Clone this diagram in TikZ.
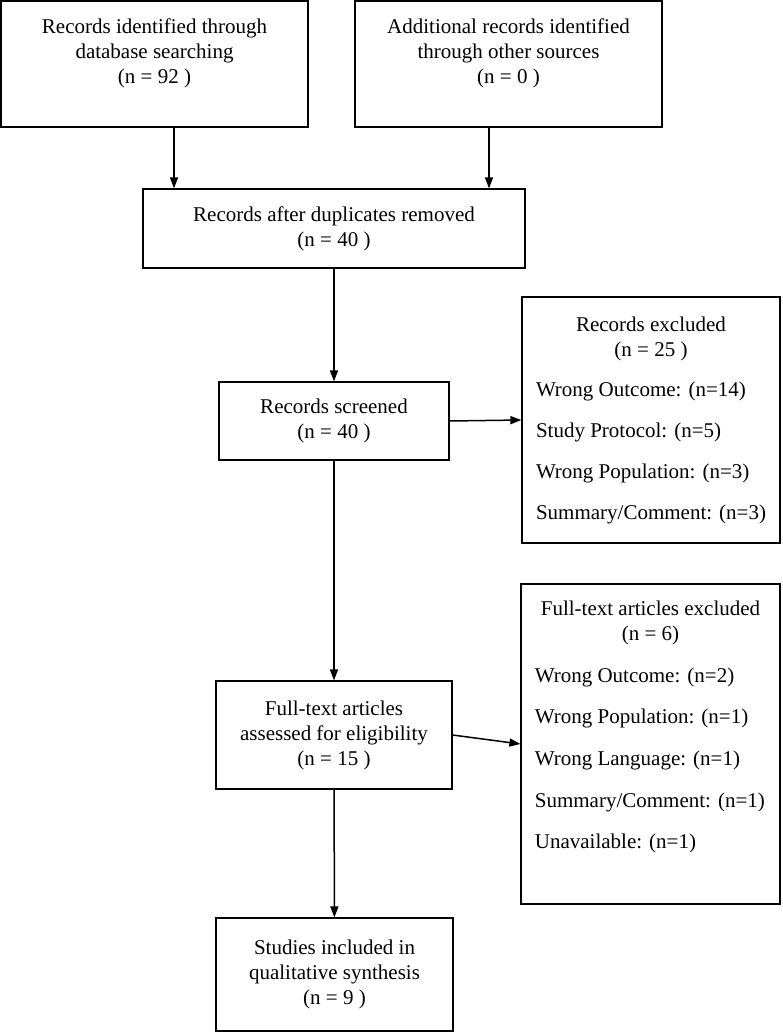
\documentclass[tikz,border=0pt]{standalone}
\usepackage{fontspec}
\setmainfont{Liberation Serif}
\usetikzlibrary{arrows.meta}

\tikzset{
  box/.style = {draw, line width=1.2pt, rectangle, align=center, inner sep=0pt,
                font=\fontsize{21}{25}\selectfont},
  arr/.style = {line width=1.5pt, -{Triangle[length=11pt, width=8pt]}}
}

\begin{document}
\begin{tikzpicture}[x=1pt, y=-1pt]
		\useasboundingbox (0,0) rectangle (782,1032);

		\node[box, minimum width=307pt, minimum height=126pt] (ident) at (154.5,64)
			{Records identified through\\ database searching\\ (n = 92 )\\ \mbox{}};
		\node[box, minimum width=307pt, minimum height=126pt] (other) at (508.5,64)
			{Additional records identified\\ through other sources\\ (n = 0 )\\ \mbox{}};
		\node[box, minimum width=382pt, minimum height=79pt] (dupl) at (334,228.5)
			{Records after duplicates removed\\ (n = 40 )};
		\node[box, minimum width=230pt, minimum height=78pt] (screen) at (334,421)
			{Records screened\\ (n = 40 )};
		\node[box, minimum width=258pt, minimum height=246pt] (excl) at (651,420)
			{\begin{tabular}{@{}l@{}}
				\multicolumn{1}{c}{Records excluded}\\
				\multicolumn{1}{c}{(n = 25 )}\\[15pt]
				Wrong Outcome: (n=14)\\[16pt]
				Study Protocol: (n=5)\\[16pt]
				Wrong Population: (n=3)\\[16pt]
				Summary/Comment: (n=3)
			\end{tabular}};
		\node[box, minimum width=236pt, minimum height=108pt] (full) at (334,735)
			{Full-text articles\\ assessed for eligibility\\ (n = 15 )};
		\node[box, minimum width=259pt, minimum height=320pt] (fexcl) at (650.5,744)
			{\begin{tabular}{@{}l@{}}
				\multicolumn{1}{c}{Full-text articles excluded}\\
				\multicolumn{1}{c}{(n = 6)}\\[17pt]
				Wrong Outcome: (n=2)\\[16pt]
				Wrong Population: (n=1)\\[17pt]
				Wrong Language: (n=1)\\[17pt]
				Summary/Comment: (n=1)\\[16pt]
				Unavailable: (n=1)\\[10pt]
				\mbox{}
			\end{tabular}};
		\node[box, minimum width=237pt, minimum height=113pt] (incl) at (334.5,974.5)
			{Studies included in\\ qualitative synthesis\\ (n = 9 )};

		\draw[arr] ([xshift=19.5pt]ident.south) -- ([xshift=19.5pt]ident.south |- dupl.north);
		\draw[arr] ([xshift=-19.5pt]other.south) -- ([xshift=-19.5pt]other.south |- dupl.north);
		\draw[arr] (dupl) -- (screen);
		\draw[arr] (screen.east) -- (excl.west);
		\draw[arr] (screen) -- (full);
		\draw[arr] (full.east) -- (fexcl.west);
		\draw[arr] (full) -- (incl);
	\end{tikzpicture}
\end{document}
